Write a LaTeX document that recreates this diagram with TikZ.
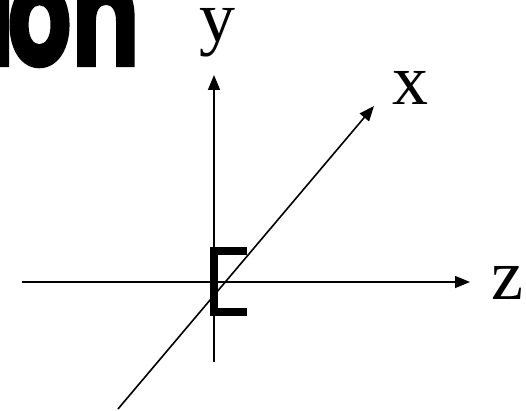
\documentclass[tikz,border=0pt]{standalone}
\usepackage{fontspec}
\setmainfont{Liberation Serif}
\newfontfamily\headfont{Poppins}[BoldFeatures={FakeBold=1.5}]
\usetikzlibrary{arrows.meta,positioning}

\begin{document}
\begin{tikzpicture}[
  x=0.5pt, y=-0.5pt,
  axis/.style={
    line width=0.8pt,
    -{Triangle[length=7.5pt,width=6pt]}
  },
  axis label/.style={
    anchor=base,
    inner sep=0pt,
    font=\fontsize{36}{40}\selectfont
  },
  heading/.style={
    anchor=base east,
    inner sep=0pt,
    font=\headfont\bfseries\fontsize{56}{60}\selectfont
  },
  bracket/.style={
    line width=4pt,
    miter limit=10
  }
]
\useasboundingbox (0,0) rectangle (526,411);

% Axis ends
\coordinate (z0) at (22,282);
\coordinate (z1) at (470,282);
\coordinate (y0) at (214,362);
\coordinate (y1) at (214,75);
\coordinate (x0) at (118,409);
\coordinate (x1) at (374,106);

% Labels
\node[heading] (title) at (140,66) {\scalebox{0.9}[1.32]{i\kern-4pt on}};
\node[axis label] (ylab) at (217,42) {y};
\node[axis label] (xlab) at (410,105) {x};
\node[axis label] (zlab) at (507,300) {z};

% Axes
\draw[axis] (z0) -- (z1);
\draw[axis] (y0) -- (y1);
\draw[axis] (x0) -- (x1);

% Bracket
\draw[bracket] (247,251.5) -- (214,251.5) -- (214,312.5) -- (247,312.5);

\end{tikzpicture}
\end{document}
